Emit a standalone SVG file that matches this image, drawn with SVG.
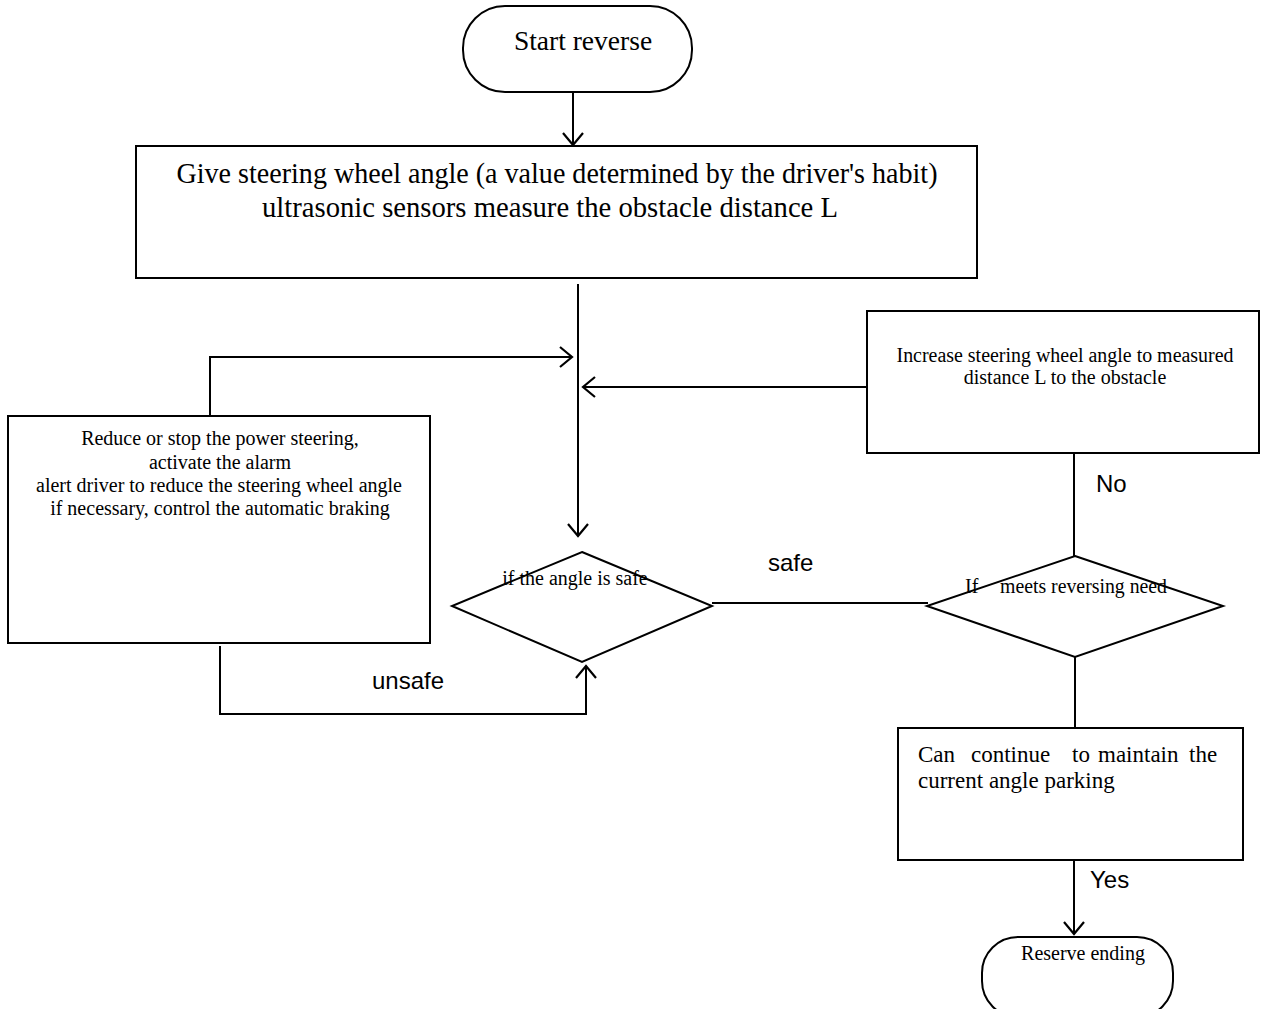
<svg xmlns="http://www.w3.org/2000/svg" width="1261" height="1009" viewBox="0 0 1261 1009">
<style>
.shape{fill:#fff;stroke:#000;stroke-width:2}
.line{fill:none;stroke:#000;stroke-width:2}
.serif{font-family:"Liberation Serif","Times New Roman",serif;fill:#000}
.sans{font-family:"Liberation Sans",Arial,sans-serif;fill:#000;font-size:24px}
</style>
<defs>
<marker id="arr" viewBox="-14 -12 16 24" refX="0" refY="0" markerWidth="16" markerHeight="24" markerUnits="userSpaceOnUse" orient="auto">
<path d="M-12,-10 L0,0 L-12,10" fill="none" stroke="#000" stroke-width="2.2"/>
</marker>
</defs>
<rect width="1261" height="1009" fill="#fff"/>
<g id="connectors">
<path class="line" d="M573,92 V145" marker-end="url(#arr)"/>
<path class="line" d="M578,284 V536" marker-end="url(#arr)"/>
<path class="line" d="M210,417 V357 H572" marker-end="url(#arr)"/>
<path class="line" d="M867,387 H583" marker-end="url(#arr)"/>
<path class="line" d="M220,646 V714 H586 V666" marker-end="url(#arr)"/>
<path class="line" d="M712,603 H928"/>
<path class="line" d="M1074,453 V556"/>
<path class="line" d="M1075,657 V728"/>
<path class="line" d="M1074,860 V934" marker-end="url(#arr)"/>
<text class="sans" x="1096" y="492">No</text>
<text class="sans" x="768" y="571">safe</text>
<text class="sans" x="372" y="689">unsafe</text>
<text class="sans" x="1090" y="888" font-size="23">Yes</text>
</g>
<g id="start">
<rect class="shape" x="463" y="6" width="229" height="86" rx="42" ry="42"/>
<text class="serif" x="583" y="50" font-size="27.5" text-anchor="middle">Start reverse</text>
</g>
<g id="measure">
<rect class="shape" x="136" y="146" width="841" height="132"/>
<text class="serif" x="557" y="183" font-size="29" text-anchor="middle" textLength="761" lengthAdjust="spacingAndGlyphs">Give steering wheel angle (a value determined by the driver's habit)</text>
<text class="serif" x="550" y="217" font-size="29" text-anchor="middle" textLength="576" lengthAdjust="spacingAndGlyphs">ultrasonic sensors measure the obstacle distance L</text>
</g>
<g id="increase">
<rect class="shape" x="867" y="311" width="392" height="142"/>
<text class="serif" x="1065" y="362" font-size="20" text-anchor="middle" textLength="337" lengthAdjust="spacingAndGlyphs">Increase steering wheel angle to measured</text>
<text class="serif" x="1065" y="384" font-size="20" text-anchor="middle">distance L to the obstacle</text>
</g>
<g id="reduce">
<rect class="shape" x="8" y="416" width="422" height="227"/>
<text class="serif" x="220" y="445" font-size="20" text-anchor="middle">Reduce or stop the power steering,</text>
<text class="serif" x="220" y="469" font-size="20" text-anchor="middle">activate the alarm</text>
<text class="serif" x="219" y="492" font-size="20" text-anchor="middle" textLength="366" lengthAdjust="spacingAndGlyphs">alert driver to reduce the steering wheel angle</text>
<text class="serif" x="220" y="515" font-size="20" text-anchor="middle">if necessary, control the automatic braking</text>
</g>
<g id="safe-check">
<polygon class="shape" points="582,552 712,606 582,662 452,606"/>
<text class="serif" x="575" y="585" font-size="20" text-anchor="middle">if the angle is safe</text>
</g>
<g id="need-check">
<polygon class="shape" points="1075,556 1223,606 1075,657 927,606"/>
<text class="serif" x="965" y="593" font-size="20">If</text>
<text class="serif" x="1000" y="593" font-size="20" textLength="167" lengthAdjust="spacingAndGlyphs">meets reversing need</text>
</g>
<g id="continue">
<rect class="shape" x="898" y="728" width="345" height="132"/>
<text class="serif" y="762" font-size="23"><tspan x="918">Can</tspan><tspan x="971">continue</tspan><tspan x="1072">to</tspan><tspan x="1098">maintain</tspan><tspan x="1189">the</tspan></text>
<text class="serif" x="918" y="788" font-size="23">current angle parking</text>
</g>
<g id="end">
<rect class="shape" x="982" y="937" width="191" height="80" rx="36" ry="36"/>
<text class="serif" x="1083" y="960" font-size="20" text-anchor="middle">Reserve ending</text>
</g>
</svg>
